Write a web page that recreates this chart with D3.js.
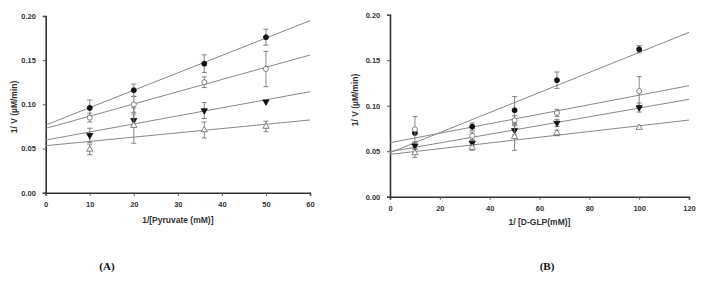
<!DOCTYPE html>
<html>
<head>
<meta charset="utf-8">
<script src="https://cdn.jsdelivr.net/npm/d3@7"></script>
<style>
  body { margin: 0; background: #fff; }
  svg { display: block; }
</style>
</head>
<body>
<div id="chart"></div>
<script>
// panel A: 1/[Pyruvate]
const xA = [10, 20, 36, 50];
const closedCircleA = [0.096, 0.116, 0.146, 0.176];
const closedCircleErrA = [0.009, 0.007, 0.010, 0.009];
const openCircleA = [0.085, 0.100, 0.125, 0.140];
const openCircleErrA = [0.005, 0.009, 0.006, 0.020];
const downTriA = [0.065, 0.082, 0.093, 0.103];
const downTriErrA = [0.008, 0.007, 0.009, 0];
const upTriA = [0.049, 0.076, 0.071, 0.075];
const upTriErrA = [0.006, 0.020, 0.009, 0.006];
const fitA = [[0.0766, 0.1947], [0.0728, 0.1558], [0.0596, 0.1143], [0.0532, 0.0823]];
const xTicksA = [0, 10, 20, 30, 40, 50, 60];

// panel B: 1/[D-GLP]
const xB = [10, 33, 50, 67, 100];
const closedCircleB = [0.070, 0.077, 0.095, 0.128, 0.162];
const closedCircleErrB = [0, 0.004, 0.015, 0.009, 0.004];
const openCircleB = [0.074, 0.067, 0.084, 0.092, 0.116];
const openCircleErrB = [0.014, 0.004, 0.005, 0.004, 0.016];
const downTriB = [0.056, 0.059, 0.073, 0.081, 0.098];
const downTriErrB = [0.004, 0.003, 0.005, 0.004, 0.005];
const upTriB = [0.048, 0.054, 0.066, 0.070, 0.076];
const upTriErrB = [0.005, 0.003, 0.015, 0.003, 0];
const fitB = [[0.0484, 0.1806], [0.0593, 0.122], [0.0495, 0.107], [0.0465, 0.0842]];
const xTicksB = [0, 20, 40, 60, 80, 100, 120];

const yTicks = [0, 0.05, 0.10, 0.15, 0.20];

const width = 704, height = 285;
const svg = d3.select('#chart').append('svg')
  .attr('width', width)
  .attr('height', height);

const markers = [
  { type: d3.symbolCircle, fill: '#111', rot: 0, size: 20 },
  { type: d3.symbolCircle, fill: '#fff', rot: 0, size: 20 },
  { type: d3.symbolTriangle, fill: '#111', rot: 180, size: 17 },
  { type: d3.symbolTriangle, fill: '#fff', rot: 0, size: 17 }
];

function drawPanel(p) {
  const g = svg.append('g');
  const x = d3.scaleLinear().domain([0, p.xMax]).range([p.left, p.right]);
  const y = d3.scaleLinear().domain([0, 0.2]).range([p.bottom, p.top]);

  const xAxis = d3.axisBottom(x).tickValues(p.xTicks).tickSize(3).tickFormat(d3.format('d'));
  const yAxis = d3.axisLeft(y).tickValues(yTicks).tickSize(3).tickFormat(d3.format('.2f'));

  const gx = g.append('g')
    .attr('transform', 'translate(0,' + p.bottom + ')')
    .call(xAxis);
  const gy = g.append('g')
    .attr('transform', 'translate(' + p.left + ',0)')
    .call(yAxis);

  [gx, gy].forEach(a => {
    a.select('.domain').attr('stroke', '#333').attr('stroke-width', 1.6);
    a.selectAll('.tick line').attr('stroke', '#555');
    a.selectAll('.tick text')
      .attr('fill', '#333')
      .style('font', 'bold 7.5px Arial, "Liberation Sans", sans-serif');
  });
  gx.selectAll('.tick text').attr('dy', '1.1em');
  gy.selectAll('.tick text').attr('dx', '-0.5em');

  // fit lines
  p.fits.forEach(f => {
    g.append('line')
      .attr('x1', x(0)).attr('y1', y(f[0]))
      .attr('x2', x(p.xMax)).attr('y2', y(f[1]))
      .attr('stroke', '#888')
      .attr('stroke-width', 1);
  });

  // error bars then markers
  p.series.forEach((s, i) => {
    const pts = p.xs.map((xv, j) => ({ x: xv, y: s.vals[j], e: s.err[j] }));
    pts.filter(d => d.e > 0).forEach(d => {
      const cx = x(d.x);
      g.append('line')
        .attr('x1', cx).attr('x2', cx)
        .attr('y1', y(d.y - d.e)).attr('y2', y(d.y + d.e))
        .attr('stroke', '#777').attr('stroke-width', 0.9);
      [d.y - d.e, d.y + d.e].forEach(v => {
        g.append('line')
          .attr('x1', cx - 2.5).attr('x2', cx + 2.5)
          .attr('y1', y(v)).attr('y2', y(v))
          .attr('stroke', '#777').attr('stroke-width', 0.9);
      });
    });
    const m = markers[i];
    g.selectAll(null)
      .data(pts)
      .join('path')
      .attr('d', d3.symbol().type(m.type).size(m.size))
      .attr('transform', d => 'translate(' + x(d.x) + ',' + y(d.y) + ') rotate(' + m.rot + ')')
      .attr('fill', m.fill)
      .attr('stroke', m.fill === '#fff' ? '#666' : '#111')
      .attr('stroke-width', 0.8);
  });

  g.append('text')
    .attr('x', (p.left + p.right) / 2)
    .attr('y', p.xTitleY)
    .attr('text-anchor', 'middle')
    .attr('fill', '#333')
    .style('font', 'bold 8.5px Arial, "Liberation Sans", sans-serif')
    .text(p.xTitle);

  g.append('text')
    .attr('transform', 'translate(' + p.yTitleX + ',' + p.yTitleY + ') rotate(-90)')
    .attr('text-anchor', 'middle')
    .attr('fill', '#333')
    .style('font', 'bold 8.5px Arial, "Liberation Sans", sans-serif')
    .text('1/ V (\u00b5M/min)');

  g.append('text')
    .attr('x', p.tagX)
    .attr('y', 270)
    .attr('text-anchor', 'middle')
    .attr('fill', '#111')
    .style('font', 'bold 11px "Liberation Serif", "Times New Roman", serif')
    .text(p.tag);
}

drawPanel({
  left: 45.7, right: 310, top: 16, bottom: 192.7, xMax: 60,
  xTicks: xTicksA, xs: xA, fits: fitA,
  series: [
    { vals: closedCircleA, err: closedCircleErrA },
    { vals: openCircleA, err: openCircleErrA },
    { vals: downTriA, err: downTriErrA },
    { vals: upTriA, err: upTriErrA }
  ],
  xTitle: '1/[Pyruvate (mM)]', xTitleY: 223,
  yTitleX: 17, yTitleY: 107,
  tag: '(A)', tagX: 107
});

drawPanel({
  left: 390, right: 689, top: 14.7, bottom: 196.7, xMax: 120,
  xTicks: xTicksB, xs: xB, fits: fitB,
  series: [
    { vals: closedCircleB, err: closedCircleErrB },
    { vals: openCircleB, err: openCircleErrB },
    { vals: downTriB, err: downTriErrB },
    { vals: upTriB, err: upTriErrB }
  ],
  xTitle: '1/ [D-GLP(mM)]', xTitleY: 225,
  yTitleX: 358, yTitleY: 100,
  tag: '(B)', tagX: 547
});
</script>
</body>
</html>
